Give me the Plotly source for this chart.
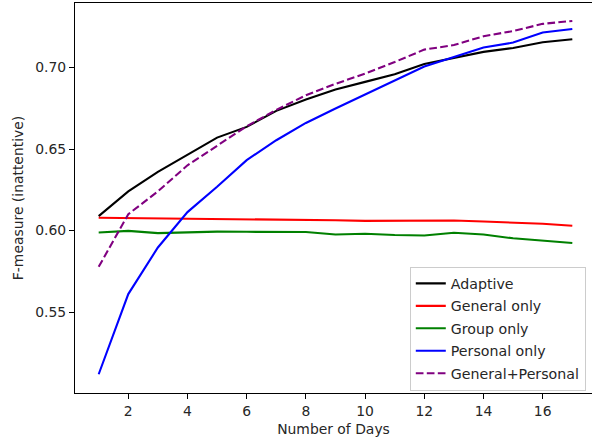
import plotly.graph_objects as go

days = list(range(1, 18))

adaptive = [0.6088, 0.6240, 0.6360, 0.6467, 0.6570, 0.6636, 0.6734, 0.6804, 0.6865,
            0.6912, 0.6959, 0.7022, 0.7061, 0.7096, 0.7120, 0.7155, 0.7174]
general_only = [0.6078, 0.6076, 0.6074, 0.6072, 0.6070, 0.6068, 0.6067, 0.6068, 0.6063,
                0.6059, 0.6060, 0.6061, 0.6061, 0.6055, 0.6050, 0.6042, 0.6029]
group_only = [0.5988, 0.5998, 0.5984, 0.5988, 0.5993, 0.5992, 0.5992, 0.5991, 0.5976,
              0.5980, 0.5972, 0.5969, 0.5986, 0.5976, 0.5952, 0.5939, 0.5923]
personal_only = [0.5118, 0.5610, 0.5896, 0.6113, 0.6268, 0.6432, 0.6554, 0.6660, 0.6749,
                 0.6836, 0.6922, 0.7006, 0.7065, 0.7123, 0.7153, 0.7215, 0.7237]
general_personal = [0.5777, 0.6100, 0.6240, 0.6400, 0.6520, 0.6640, 0.6740, 0.6830, 0.6900,
                    0.6963, 0.7034, 0.7110, 0.7138, 0.7192, 0.7224, 0.7268, 0.7286]

series = [
    ("Adaptive", adaptive, "black", "solid"),
    ("General only", general_only, "red", "solid"),
    ("Group only", group_only, "green", "solid"),
    ("Personal only", personal_only, "blue", "solid"),
    ("General+Personal", general_personal, "purple", "7.7px,3.3px"),
]

x_ticks = [2, 4, 6, 8, 10, 12, 14, 16]
y_ticks = [0.55, 0.60, 0.65, 0.70]
y_tick_text = ["0.55", "0.60", "0.65", "0.70"]

FONT = "DejaVu Sans"
fig = go.Figure()
for i, (name, vals, color, dash) in enumerate(series):
    fig.add_trace(go.Scatter(x=days, y=vals, mode="lines", name=name,
                             legendgroup=f"g{i}",
                             line=dict(color=color, width=2.08, dash=dash)))

fig.update_layout(
    width=592, height=444,
    margin=dict(l=75, r=0, t=3, b=51),
    paper_bgcolor="white", plot_bgcolor="white",
    font=dict(family=FONT, size=13.9, color="#262626"),
    showlegend=True,
    legend=dict(x=0.988, xanchor="right", y=0.006, yanchor="bottom",
                bgcolor="rgba(255,255,255,0.8)", bordercolor="#cccccc", borderwidth=1,
                font=dict(family=FONT, size=14.2, color="#262626"),
                tracegroupgap=1, itemwidth=30),
    xaxis=dict(range=[0.2, 17.665], tickvals=x_ticks, ticks="outside", ticklen=5,
               tickcolor="black", showline=True, linecolor="black", linewidth=1,
               mirror=True, showgrid=False, zeroline=False,
               title=dict(text="Number of Days", standoff=6,
                          font=dict(family=FONT, size=13.9, color="#262626"))),
    yaxis=dict(range=[0.5003, 0.7396], tickvals=y_ticks, ticktext=y_tick_text,
               ticks="outside", ticklen=5, tickcolor="black", showline=True,
               linecolor="black", linewidth=1, mirror=False, showgrid=False,
               zeroline=False,
               title=dict(text="F-measure (inattentive)", standoff=8,
                          font=dict(family=FONT, size=13.9, color="#262626"))),
)

fig.write_html("out.html")
